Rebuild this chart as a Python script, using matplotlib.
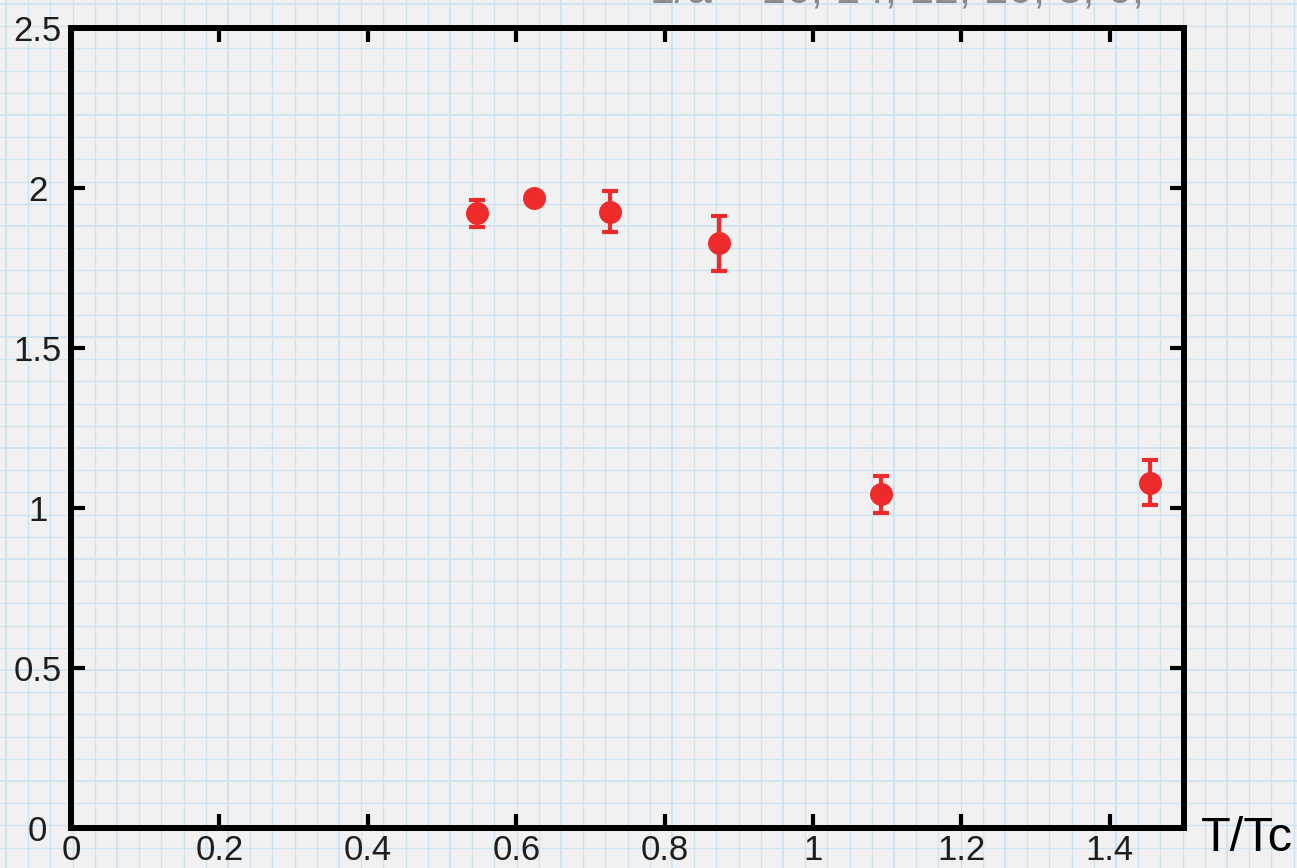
import matplotlib
matplotlib.use("Agg")
import matplotlib.pyplot as plt
import numpy as np

plt.rcParams['font.family'] = ['Liberation Sans', 'DejaVu Sans']

# Data
t_over_tc = [0.547, 0.624, 0.727, 0.873, 1.091, 1.454]
values = [1.921, 1.970, 1.926, 1.827, 1.043, 1.079]
errors = [0.042, 0.010, 0.065, 0.087, 0.058, 0.070]
xticks = [0, 0.2, 0.4, 0.6, 0.8, 1, 1.2, 1.4]
xticklabels = ['0', '0.2', '0.4', '0.6', '0.8', '1', '1.2', '1.4']
yticks = [0, 0.5, 1, 1.5, 2, 2.5]
yticklabels = ['0', '0.5', '1', '1.5', '2', '2.5']
top_text = "1/a    16, 14, 12, 10, 8, 6,"

W, H = 1297, 868
fig = plt.figure(figsize=(W / 100, H / 100), dpi=100)
fig.patch.set_facecolor('#f1f1f1')

# graph-paper background
bg = fig.add_axes([0, 0, 1, 1], zorder=0)
bg.set_xlim(0, W)
bg.set_ylim(H, 0)
bg.axis('off')
step = 22.2
for i, gx in enumerate(np.arange(6, W, step)):
    bg.axvline(gx, color='#cde2ee', lw=1.4 if i % 5 == 0 else 1.0, alpha=0.9)
for i, gy in enumerate(np.arange(4, H, step)):
    bg.axhline(gy, color='#cde2ee', lw=1.4 if i % 5 == 0 else 1.0, alpha=0.9)

left, right, top, bottom = 71, 1184, 28, 828
ax = fig.add_axes([left / W, 1 - bottom / H, (right - left) / W, (bottom - top) / H], zorder=1)
ax.patch.set_alpha(0)
ax.set_xlim(0, 1.5)
ax.set_ylim(0, 2.5)

ax.errorbar(t_over_tc, values, yerr=errors, fmt='o', color='#ee2a2a',
            ms=15.5, elinewidth=3.0, capsize=5.5, capthick=3.0, zorder=3,
            clip_on=False)

for s in ax.spines.values():
    s.set_linewidth(4.3)
    s.set_color('black')

ax.set_xticks(xticks)
ax.set_xticklabels(xticklabels)
ax.set_yticks(yticks)
ax.set_yticklabels(yticklabels)
ax.tick_params(direction='in', length=10, width=3, top=True, right=True,
               labelsize=25, labelcolor='#1e1e1e', colors='black')
ax.tick_params(axis='y', pad=24)
ax.tick_params(axis='x', pad=4)
for lab in ax.get_yticklabels():
    lab.set_horizontalalignment('center')
for t in ax.xaxis.get_major_ticks()[:1]:
    t.tick1line.set_visible(False)
    t.tick2line.set_visible(False)
for t in [ax.yaxis.get_major_ticks()[0], ax.yaxis.get_major_ticks()[-1]]:
    t.tick1line.set_visible(False)
    t.tick2line.set_visible(False)

fig.text(1201 / W, 1 - 851 / H, 'T/Tc', fontsize=35, ha='left', va='baseline', color='black')
fig.text(650 / W, 1 - 3 / H, top_text, fontsize=32, ha='left', va='baseline', color='#8a8a8a')

fig.savefig('out.png', dpi=100, facecolor=fig.get_facecolor())
